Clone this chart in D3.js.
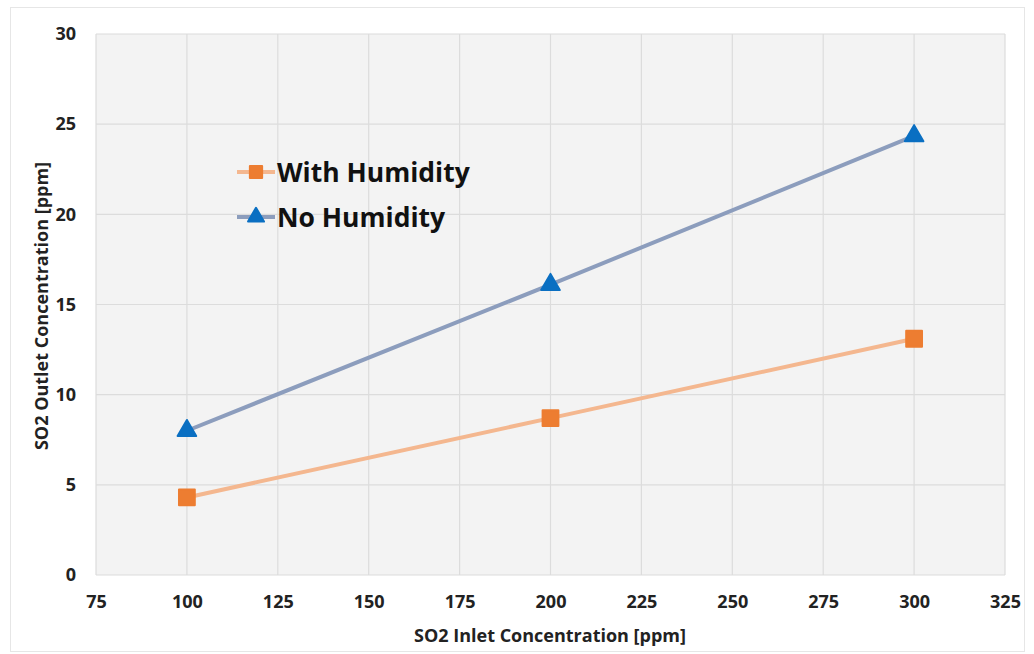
<!DOCTYPE html>
<html>
<head>
<meta charset="utf-8">
<script src="https://cdn.jsdelivr.net/npm/d3@7"></script>
<style>
  html, body { margin: 0; padding: 0; background: #fff; }
  svg { display: block; }
  text { font-family: "Open Sans", Lato, sans-serif; }
</style>
</head>
<body>
<svg id="chart" width="1034" height="654"></svg>
<script>
// Inlet concentration (ppm) and measured outlet concentrations
const inlet = [100, 200, 300];
const withHumidity = [4.3, 8.7, 13.1];
const noHumidity = [8.0, 16.1, 24.35];
const xTicks = [75, 100, 125, 150, 175, 200, 225, 250, 275, 300, 325];
const yTicks = [0, 5, 10, 15, 20, 25, 30];
const seriesNames = ["With Humidity", "No Humidity"];

const svg = d3.select("#chart");
const W = 1034, H = 654;
const plot = { left: 96, right: 1005, top: 34, bottom: 575 };

// chart area frame
svg.append("rect")
  .attr("x", 10.5).attr("y", 7.5).attr("width", W - 20).attr("height", H - 10)
  .attr("fill", "#fff").attr("stroke", "#e6e6e6");

const x = d3.scaleLinear().domain([75, 325]).range([plot.left, plot.right]);
const y = d3.scaleLinear().domain([0, 30]).range([plot.bottom, plot.top]);

// plot background
svg.append("rect")
  .attr("x", plot.left).attr("y", plot.top)
  .attr("width", plot.right - plot.left).attr("height", plot.bottom - plot.top)
  .attr("fill", "#f3f3f3");

// gridlines
svg.append("g").selectAll("line").data(xTicks).join("line")
  .attr("x1", d => x(d)).attr("x2", d => x(d))
  .attr("y1", plot.top).attr("y2", plot.bottom)
  .attr("stroke", "#dcdcdc").attr("stroke-width", 1.2);
svg.append("g").selectAll("line").data(yTicks).join("line")
  .attr("x1", plot.left).attr("x2", plot.right)
  .attr("y1", d => y(d)).attr("y2", d => y(d))
  .attr("stroke", "#dcdcdc").attr("stroke-width", 1.2);

// axes (labels only, no domain lines)
const xAxis = svg.append("g")
  .attr("transform", `translate(0,${plot.bottom})`)
  .call(d3.axisBottom(x).tickValues(xTicks).tickSize(0).tickPadding(20));
const yAxis = svg.append("g")
  .attr("transform", `translate(${plot.left},0)`)
  .call(d3.axisLeft(y).tickValues(yTicks).tickSize(0).tickPadding(20));
[xAxis, yAxis].forEach(g => {
  g.select(".domain").remove();
  g.selectAll("text")
    .attr("font-family", "'Open Sans', Lato, sans-serif")
    .attr("font-size", 18).attr("font-weight", "bold").attr("fill", "#222");
});

// axis titles
svg.append("text")
  .attr("x", 550).attr("y", 642)
  .attr("text-anchor", "middle").attr("font-size", 18).attr("font-weight", "bold")
  .attr("fill", "#222").text("SO2 Inlet Concentration [ppm]");
svg.append("text")
  .attr("transform", "translate(48,306) rotate(-90)")
  .attr("text-anchor", "middle").attr("font-size", 18).attr("font-weight", "bold")
  .attr("fill", "#222").text("SO2 Outlet Concentration [ppm]");

const line = d3.line().x(d => x(d[0])).y(d => y(d[1]));
const series = [
  { name: seriesNames[0], values: withHumidity, line: "#f4b78f", marker: "#ed7d31", shape: d3.symbolSquare },
  { name: seriesNames[1], values: noHumidity, line: "#8c9dbd", marker: "#0a6fc2", shape: d3.symbolTriangle }
];

series.forEach(s => {
  const pts = inlet.map((v, i) => [v, s.values[i]]);
  svg.append("path").datum(pts)
    .attr("d", line).attr("fill", "none")
    .attr("stroke", s.line).attr("stroke-width", 4).attr("stroke-linecap", "round");
  svg.append("g").selectAll("path").data(pts).join("path")
    .attr("transform", d => `translate(${x(d[0])},${y(d[1])})`)
    .attr("d", d3.symbol().type(s.shape).size(s.shape === d3.symbolSquare ? 250 : 150))
    .attr("fill", s.marker).attr("stroke", s.marker).attr("stroke-width", 2)
    .attr("stroke-linejoin", "round");
});

// legend
const legend = svg.append("g").attr("transform", "translate(237,172)");
series.forEach((s, i) => {
  const g = legend.append("g").attr("transform", `translate(0,${i * 45})`);
  g.append("line").attr("x1", 0).attr("x2", 38).attr("y1", 0).attr("y2", 0)
    .attr("stroke", s.line).attr("stroke-width", 4);
  g.append("path").attr("transform", "translate(19,0)")
    .attr("d", d3.symbol().type(s.shape).size(s.shape === d3.symbolSquare ? 150 : 110))
    .attr("fill", s.marker).attr("stroke", s.marker).attr("stroke-width", 2)
    .attr("stroke-linejoin", "round");
  g.append("text").attr("x", 40).attr("y", 9.5)
    .attr("font-size", 26.5).attr("font-weight", "bold").attr("fill", "#111")
    .text(s.name);
});
</script>
</body>
</html>
